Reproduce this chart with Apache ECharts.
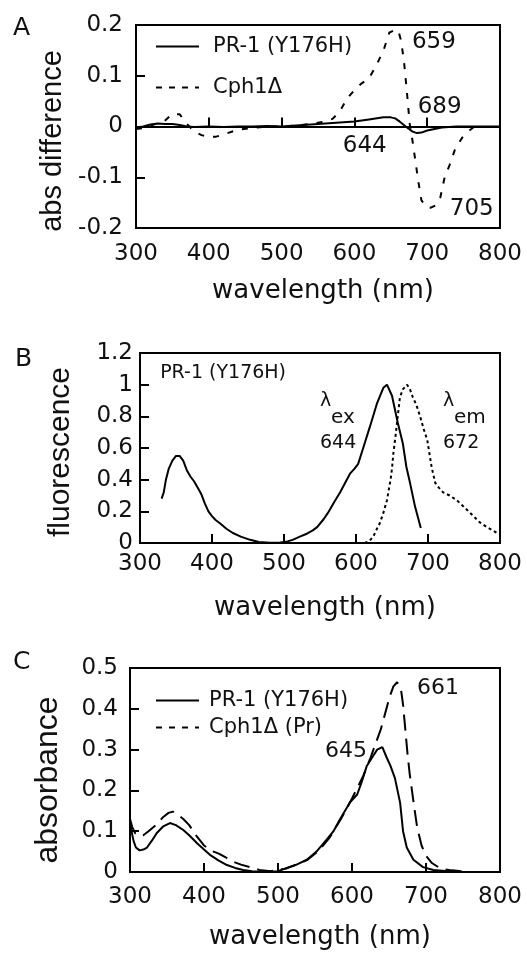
<!DOCTYPE html>
<html><head><meta charset="utf-8">
<script src="https://cdn.jsdelivr.net/npm/echarts@6/dist/echarts.min.js"></script>
<style>html,body{margin:0;padding:0;background:#fff}#c{width:527px;height:959px}</style>
</head><body><div id="c"></div>
<script>
// ---------- data ----------
const wavelengthTicks = [300, 400, 500, 600, 700, 800];

// Panel A: absorbance difference
const aPR1Wl  = [300,310,320,330,340,350,360,370,380,400,420,440,460,480,500,520,540,560,580,600,620,640,650,656,662,668,674,680,686,692,700,710,720,740,760,780,800];
const aPR1Val = [-0.002,0,0.004,0.006,0.005,0.005,0.003,0,-0.001,0,-0.001,0,0,0.001,0,0.002,0.004,0.006,0.008,0.010,0.014,0.018,0.018,0.016,0.010,0.003,-0.004,-0.010,-0.013,-0.012,-0.008,-0.005,-0.002,0,0,0,0];
const aCphWl  = [300,310,320,330,340,350,360,370,380,390,400,410,420,440,460,480,500,520,540,560,570,580,590,600,610,620,630,640,648,655,660,664,668,672,676,680,684,688,692,698,705,712,718,724,731,738,748,758,765];
const aCphVal = [-0.005,-0.003,0.002,0.006,0.012,0.025,0.024,0.005,-0.010,-0.017,-0.020,-0.020,-0.016,-0.006,-0.003,0,0,0.002,0.005,0.010,0.015,0.030,0.055,0.072,0.085,0.095,0.120,0.150,0.185,0.190,0.190,0.170,0.130,0.070,0.005,-0.030,-0.070,-0.110,-0.145,-0.158,-0.160,-0.155,-0.140,-0.100,-0.075,-0.046,-0.022,-0.008,0];

// Panel B: fluorescence
const bExWl  = [330,333,336,340,345,350,355,360,365,370,375,380,385,390,395,400,405,411,420,429,440,453,465,480,495,505,512,522,530,540,546,555,561,570,578,585,592,598,603,610,619,629,638,643,650,658,665,670,675,682,690];
const bExVal = [0.28,0.32,0.40,0.47,0.52,0.55,0.55,0.52,0.46,0.42,0.39,0.35,0.31,0.25,0.20,0.17,0.145,0.125,0.09,0.063,0.04,0.02,0.006,0.002,0.003,0.01,0.02,0.04,0.055,0.08,0.10,0.15,0.19,0.26,0.32,0.38,0.44,0.47,0.50,0.60,0.73,0.88,0.98,1.0,0.93,0.76,0.63,0.48,0.38,0.23,0.095];
const bEmWl  = [612,618,624,628,633,638,643,648,650,652,655,658,661,665,671,675,679,684,689,694,699,705,710,715,721,730,740,747,754,763,772,782,790,795,800];
const bEmVal = [0,0.01,0.04,0.08,0.125,0.19,0.27,0.40,0.47,0.57,0.68,0.80,0.92,0.97,1.0,0.97,0.92,0.87,0.80,0.72,0.65,0.48,0.38,0.35,0.32,0.30,0.27,0.24,0.21,0.17,0.13,0.10,0.08,0.065,0.055];

// Panel C: absorbance
const cPR1Wl  = [300,302,305,308,313,318,323,330,336,345,354,362,372,380,391,400,408,420,431,442,453,465,480,500,512,525,539,552,566,575,584,597,607,613,620,627,634,641,647,652,658,665,669,674,683,696,710,730,750];
const cPR1Val = [0.12,0.10,0.075,0.06,0.053,0.055,0.06,0.078,0.095,0.112,0.12,0.115,0.103,0.09,0.07,0.055,0.042,0.028,0.017,0.01,0.005,0.002,0.001,0.002,0.01,0.018,0.03,0.05,0.08,0.10,0.13,0.17,0.19,0.22,0.26,0.28,0.30,0.306,0.28,0.26,0.23,0.17,0.10,0.06,0.03,0.012,0.005,0.002,0];
const cCphWl  = [300,303,307,312,318,325,335,345,352,358,365,372,380,390,400,410,420,430,440,450,462,475,490,510,525,540,555,570,585,600,615,625,633,639,645,651,656,661,666,669,672,675,678,681,684,688,694,700,708,720,735,760];
const cCphVal = [0.13,0.11,0.095,0.088,0.09,0.10,0.115,0.135,0.145,0.148,0.14,0.13,0.115,0.088,0.065,0.052,0.045,0.035,0.025,0.018,0.012,0.005,0.002,0.008,0.018,0.03,0.052,0.085,0.13,0.18,0.235,0.28,0.32,0.35,0.39,0.43,0.455,0.465,0.45,0.41,0.35,0.29,0.24,0.20,0.16,0.11,0.065,0.04,0.022,0.008,0.004,0];

const yTicksA = [-0.2, 0.2, 0.1];
const yTicksB = [0, 1.2, 0.2];
const yTicksC = [0, 0.5, 0.1];

// ---------- helpers ----------
const zip = (x, y) => x.map((v, i) => [v, y[i]]);
const TXT = 'DejaVu Sans';
const grids = [
  {left: 136, top: 25, width: 364, height: 203},
  {left: 140, top: 353, width: 360, height: 190},
  {left: 130, top: 668, width: 370, height: 204}
];
function xAx(i, gap, margin) {
  return {
    type: 'value', gridIndex: i, min: wavelengthTicks[0], max: wavelengthTicks[wavelengthTicks.length - 1], interval: 100,
    axisLine: {show: true, lineStyle: {color: '#000', width: 2}},
    axisTick: {show: true, inside: true, length: 9, lineStyle: {color: '#000', width: 2}},
    axisLabel: {color: '#111', fontSize: 23, fontFamily: TXT, margin: margin, showMinLabel: true, showMaxLabel: true},
    splitLine: {show: false},
    name: 'wavelength (nm)', nameLocation: 'middle', nameGap: gap,
    nameTextStyle: {color: '#111', fontSize: 26, fontFamily: TXT, padding: [0, 0, 0, 10]}
  };
}
function yAx(i, t, name, gap, margin, fs, pad) {
  return {
    type: 'value', gridIndex: i, min: t[0], max: t[1], interval: t[2],
    axisLine: {show: true, lineStyle: {color: '#000', width: 2}},
    axisTick: {show: true, inside: true, length: 9, lineStyle: {color: '#000', width: 2}},
    axisLabel: {color: '#111', fontSize: 23, fontFamily: TXT, margin: margin, showMinLabel: true, showMaxLabel: true},
    splitLine: {show: false},
    name: name, nameLocation: 'middle', nameGap: gap,
    nameTextStyle: {color: '#111', fontSize: fs, fontFamily: 'Liberation Sans', padding: pad}
  };
}
function line(name, i, data, type, width) {
  return {
    type: 'line', name: name, xAxisIndex: i, yAxisIndex: i, data: data,
    showSymbol: false, symbol: 'none', silent: true,
    lineStyle: {color: '#000', width: width || 2, type: type || 'solid'},
    itemStyle: {color: '#000'}
  };
}
const hiddenSymbol = {color: 'rgba(0,0,0,0)', borderColor: 'rgba(0,0,0,0)', borderWidth: 0, opacity: 0};

const chart = echarts.init(document.getElementById('c'), null, {renderer: 'canvas'});
const option = {
  animation: false,
  backgroundColor: '#fff',
  grid: grids.map(g => Object.assign({show: true, borderColor: '#000', borderWidth: 2, backgroundColor: 'transparent'}, g)),
  xAxis: [xAx(0, 50, 15), xAx(1, 52, 10), xAx(2, 52, 14)],
  yAxis: [
    yAx(0, yTicksA, 'abs difference', 66, 13, 29, [0, 29, 0, 0]),
    yAx(1, yTicksB, 'fluorescence', 64, 7, 30, [0, 8, 0, 0]),
    yAx(2, yTicksC, 'absorbance', 66, 12, 32, [0, 20, 0, 0])
  ],
  legend: [
    {orient: 'vertical', left: 150, top: 31, itemWidth: 43, itemHeight: 24, itemGap: 20, selectedMode: false,
     itemStyle: hiddenSymbol,
     textStyle: {fontSize: 21, fontFamily: TXT, color: '#111', padding: [0, 0, 0, 9]},
     data: [{name: 'PR-1 (Y176H)'}, {name: 'Cph1Δ', lineStyle: {type: [6, 7]}}]},
    {orient: 'vertical', left: 150, top: 685, itemWidth: 43, itemHeight: 24, itemGap: 6, selectedMode: false,
     itemStyle: hiddenSymbol,
     textStyle: {fontSize: 21, fontFamily: TXT, color: '#111', padding: [0, 0, 0, 5]},
     data: [{name: 'PR-1 (Y176H)'}, {name: 'Cph1Δ (Pr)', lineStyle: {type: [6, 7]}}]}
  ],
  series: [
    line('PR-1 (Y176H)', 0, zip(aPR1Wl, aPR1Val)),
    line('Cph1Δ', 0, zip(aCphWl, aCphVal), [6, 9]),
    line('excitation', 1, zip(bExWl, bExVal)),
    line('emission', 1, zip(bEmWl, bEmVal), [3, 3]),
    line('PR-1 (Y176H)', 2, zip(cPR1Wl, cPR1Val)),
    line('Cph1Δ (Pr)', 2, zip(cCphWl, cCphVal), [16, 8])
  ]
};
chart.setOption(option);

// annotations placed in data coordinates
const notes = [
  {g: 0, t: '659', x: 679, y: 0.166, fs: 23},
  {g: 0, t: '689', x: 687, y: 0.038, fs: 23},
  {g: 0, t: '644', x: 584, y: -0.038, fs: 23},
  {g: 0, t: '705', x: 731, y: -0.163, fs: 23},
  {g: 1, t: 'PR-1 (Y176H)', x: 328, y: 1.073, fs: 19},
  {g: 1, t: 'λ', x: 550, y: 0.896, fs: 19},
  {g: 1, t: 'ex', x: 565.3, y: 0.789, fs: 20},
  {g: 1, t: '644', x: 550, y: 0.631, fs: 19},
  {g: 1, t: 'λ', x: 720.8, y: 0.896, fs: 19},
  {g: 1, t: 'em', x: 736, y: 0.789, fs: 20},
  {g: 1, t: '672', x: 720.8, y: 0.631, fs: 19},
  {g: 2, t: '661', x: 688, y: 0.451, fs: 22},
  {g: 2, t: '645', x: 563.5, y: 0.297, fs: 22}
];
const graphics = notes.map(n => {
  const p = chart.convertToPixel({gridIndex: n.g}, [n.x, n.y]);
  return {type: 'text', x: p[0], y: p[1], silent: true,
    style: {text: n.t, fontSize: n.fs, fontFamily: TXT, fill: '#111', align: 'left', verticalAlign: 'middle'}};
});
[['A', 13, 28], ['B', 15, 359], ['C', 13, 662]].forEach(l => {
  graphics.push({type: 'text', x: l[1], y: l[2], silent: true,
    style: {text: l[0], fontSize: 25, fontFamily: TXT, fill: '#111', align: 'left', verticalAlign: 'middle'}});
});
chart.setOption({graphic: graphics});
</script>
</body></html>
